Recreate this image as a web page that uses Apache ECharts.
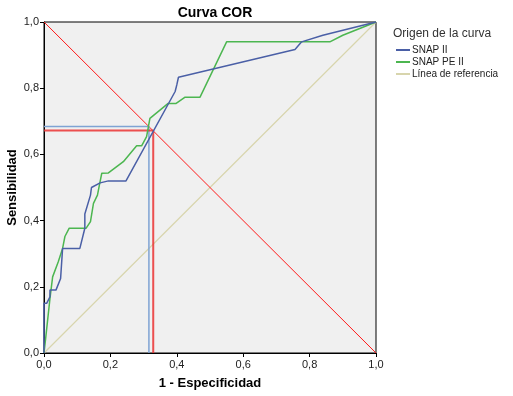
<!DOCTYPE html>
<html>
<head>
<meta charset="utf-8">
<script src="https://cdn.jsdelivr.net/npm/echarts@6/dist/echarts.min.js"></script>
<style>html,body{margin:0;padding:0;background:#fff}#c{width:513px;height:396px}</style>
</head>
<body>
<div id="c"></div>
<script>
const snap2 = [[0,0],[0,0.15],[0.008,0.15],[0.018,0.17],[0.018,0.19],[0.036,0.19],[0.05,0.225],[0.056,0.316],[0.108,0.316],[0.123,0.377],[0.123,0.42],[0.14,0.477],[0.143,0.5],[0.169,0.514],[0.194,0.52],[0.247,0.52],[0.395,0.79],[0.4,0.81],[0.405,0.833],[0.756,0.917],[0.776,0.94],[0.84,0.96],[1,1]];
const snapPe2 = [[0,0],[0.005,0.044],[0.009,0.044],[0.018,0.165],[0.023,0.17],[0.026,0.23],[0.043,0.276],[0.056,0.316],[0.063,0.352],[0.076,0.377],[0.127,0.377],[0.14,0.397],[0.149,0.452],[0.161,0.477],[0.167,0.508],[0.174,0.543],[0.194,0.544],[0.239,0.578],[0.279,0.626],[0.294,0.626],[0.309,0.654],[0.319,0.709],[0.324,0.714],[0.374,0.754],[0.398,0.754],[0.425,0.773],[0.47,0.773],[0.55,0.94],[0.861,0.94],[0.9,0.96],[1,1]];
const refLine = [[0,0],[1,1]];
const diagLine = [[0,1],[1,0]];
const cutRed = [[0,0.672],[0.329,0.672],[0.329,0]];
const cutBlue = [[0,0.684],[0.316,0.684],[0.316,0]];
const seriesNames = ['SNAP II','SNAP PE II','Línea de referencia'];
const titleText = 'Curva COR';
const xName = '1 - Especificidad';
const yName = 'Sensibilidad';
const legendTitle = 'Origen de la curva';

const fmt = v => v.toFixed(1).replace('.', ',');
const FONT = '"Liberation Sans", Arial, sans-serif';
const chart = echarts.init(document.getElementById('c'), null, {renderer:'canvas'});
const axisCommon = {
  type:'value', min:0, max:1, interval:0.2,
  axisLine:{show:true, lineStyle:{color:'#000', width:1}},
  axisTick:{show:true, inside:false, length:4, lineStyle:{color:'#000'}},
  splitLine:{show:false},
  axisLabel:{formatter:fmt, color:'#222', fontSize:11, fontFamily:FONT},
  nameLocation:'middle', nameMoveOverlap:false,
  nameTextStyle:{fontWeight:'bold', fontSize:13, color:'#000', fontFamily:FONT}
};
const lineS = (name, data, color, width, z) => ({
  name, type:'line', data, symbol:'none', z,
  lineStyle:{color, width}, itemStyle:{color}, animation:false, silent:true
});
chart.setOption({
  animation:false,
  title:{text:titleText, left:210, textAlign:'center', top:1,
    textStyle:{fontSize:14, fontWeight:'bold', color:'#000', fontFamily:FONT}},
  grid:{left:44, right:137, top:22, bottom:43, containLabel:false, outerBoundsMode:'none',
    show:true, backgroundColor:'#f0f0f0', borderColor:'#000', borderWidth:1},
  xAxis:Object.assign({}, axisCommon, {name:xName, nameGap:24, axisLabel:Object.assign({}, axisCommon.axisLabel, {margin:6})}),
  yAxis:Object.assign({}, axisCommon, {name:yName, nameGap:25, axisLabel:Object.assign({}, axisCommon.axisLabel, {margin:5})}),
  legend:{data:seriesNames, orient:'vertical', left:391, top:40, itemWidth:14, itemHeight:2, itemGap:2, icon:'rect',
    textStyle:{fontSize:10, color:'#222', fontFamily:FONT, padding:[0,0,0,-3]}},
  graphic:[{type:'text', left:393, top:28, style:{text:legendTitle, fontSize:12, fill:'#333', fontFamily:FONT}}],
  series:[
    lineS('Línea de referencia', refLine, '#d8d5ad', 1.2, 2),
    lineS('diag', diagLine, '#ff1a1a', 1, 3),
    lineS('cutBlue', cutBlue, '#7fa3d3', 1.5, 4),
    lineS('cutRed', cutRed, 'rgba(235,50,50,0.85)', 2, 4),
    lineS('SNAP PE II', snapPe2, '#4cb650', 1.5, 5),
    lineS('SNAP II', snap2, '#4a5fa6', 1.5, 6)
  ]
});
</script>
</body>
</html>
